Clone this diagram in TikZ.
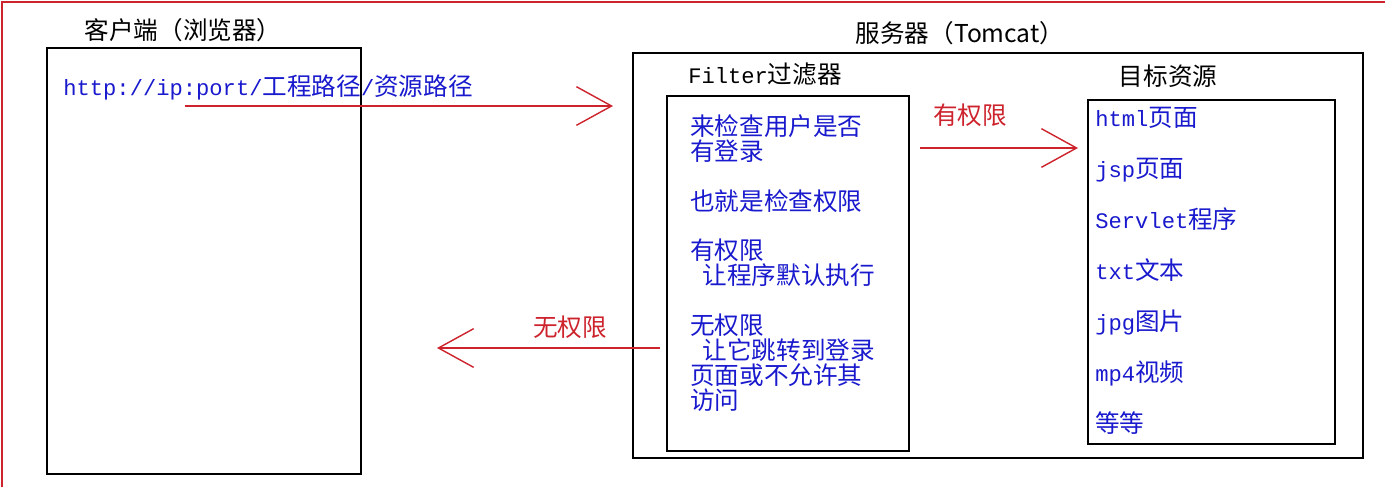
\documentclass[tikz,border=0pt]{standalone}
\usepackage{fontspec}
\setmainfont{Noto Sans CJK SC}
\newfontfamily\lat[Scale=0.9]{Liberation Mono}
\usepackage{xcolor}
\usepackage{tikz}
\usetikzlibrary{arrows.meta, positioning}
\definecolor{linkblue}{RGB}{25,25,205}
\definecolor{flowred}{RGB}{205,35,45}

\begin{document}
\begin{tikzpicture}[x=0.02cm, y=-0.02cm,
    box/.style={draw, line width=1pt, anchor=north west, inner sep=0pt},
    title/.style={font=\fontsize{14}{16}\selectfont},
    note/.style={text=linkblue, align=left, anchor=north west, inner sep=0pt, font=\fontsize{14}{14.2}\selectfont},
    flow/.style={draw=flowred, line width=0.8pt, -{Straight Barb[length=20pt, width=22pt, line width=0.8pt]}},
    flowlabel/.style={text=flowred, font=\fontsize{14}{16}\selectfont}]
  \useasboundingbox (0,0) rectangle (1385,487);
  % red frame, top and left
  \draw[flowred, line width=1.2pt] (1385,2) -- (2,2) -- (2,487);

  % Client side
  \node[box, minimum width=6.28cm, minimum height=8.52cm] (client) at (46,47) {};
  \node[title] (clientT) at (183,30) {客户端（浏览器）};
  \node[note] (url) at (63,74) {{\lat http://ip:port/}工程路径{\lat /}资源路径};

  % Server side
  \node[box, minimum width=14.6cm, minimum height=8.1cm] (server) at (632,52) {};
  \node[title] (serverT) at (960,33) {服务器（Tomcat）};

  % filter
  \node[title] (filterT) at (765,74) {{\lat Filter}过滤器};
  \node[box, minimum width=4.84cm, minimum height=7.1cm] (filter) at (666,95) {};
  \node[note] (check) at (690,114) {来检查用户是否\\有登录\\[14.2pt]也就是检查权限\\[14.2pt]有权限\\\hspace*{0.5em}让程序默认执行\\[14.2pt]无权限\\\hspace*{0.5em}让它跳转到登录\\页面或不允许其\\访问};

  % target resources
  \node[title] (targetT) at (1168,76) {目标资源};
  \node[box, minimum width=4.94cm, minimum height=6.88cm] (target) at (1087,99) {};
  \node[note, font=\fontsize{14}{29}\selectfont] (items) at (1095,107) {{\lat html}页面\\{\lat jsp}页面\\{\lat Servlet}程序\\{\lat txt}文本\\{\lat jpg}图片\\{\lat mp4}视频\\等等};

  % request and answers
  \coordinate (reqS) at (185,106);
  \coordinate (reqE) at (613,106);
  \draw[flow] (reqS) -- (reqE);
  \coordinate (okS) at (920,148);
  \coordinate (okE) at (1078,148);
  \draw[flow] (okS) -- (okE);
  \node[flowlabel] (okL) at (970,115) {有权限};
  \coordinate (denyS) at (660,348);
  \coordinate (denyE) at (437,348);
  \draw[flow] (denyS) -- (denyE);
  \node[flowlabel] (denyL) at (570,327) {无权限};
\end{tikzpicture}
\end{document}
